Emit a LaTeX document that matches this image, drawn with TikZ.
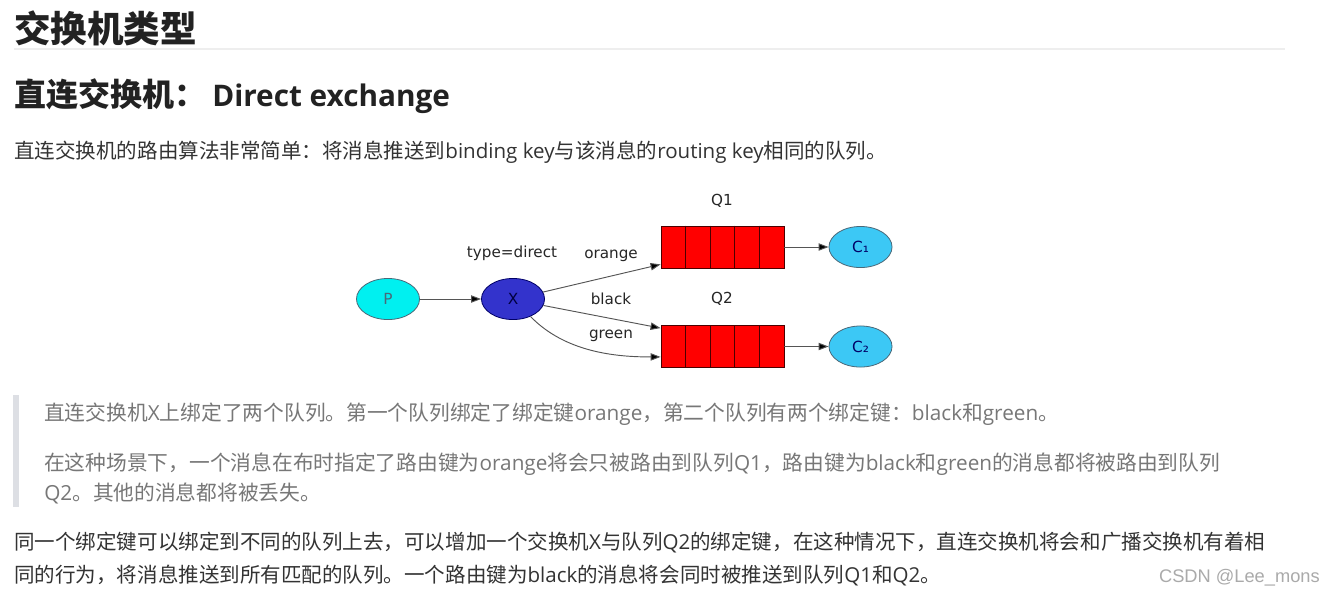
\documentclass[tikz,border=0pt]{standalone}
\usepackage{fontspec}
\setmainfont{Noto Sans CJK SC}
\newfontfamily\lat{Open Sans}
\newfontfamily\dia{DejaVu Sans}
\newfontfamily\wm{Liberation Sans}
\usetikzlibrary{arrows.meta,positioning,shapes.geometric,calc}
\definecolor{inkDark}{RGB}{34,34,34}
\definecolor{inkBody}{RGB}{51,51,51}
\definecolor{inkQuote}{RGB}{119,119,119}
\definecolor{barGray}{RGB}{221,223,228}
\definecolor{ruleGray}{RGB}{238,238,238}
\definecolor{markGray}{RGB}{170,170,170}
\definecolor{prodCyan}{RGB}{0,240,240}
\definecolor{exBlue}{RGB}{51,51,204}
\definecolor{conBlue}{RGB}{60,200,245}
\definecolor{qRed}{RGB}{255,0,0}
\definecolor{edgeGray}{RGB}{85,85,85}

\begin{document}
\begin{tikzpicture}[x=0.75pt,y=-0.75pt,
      h1/.style={anchor=base west,inner sep=0,text=inkDark,font=\bfseries\fontsize{27.4}{32}\selectfont},
      h2/.style={anchor=base west,inner sep=0,text=inkDark,font=\bfseries\fontsize{24}{28}\selectfont},
      para/.style={anchor=base west,inner sep=0,text=inkBody,font=\fontsize{15.4}{18}\selectfont},
      quo/.style={para,text=inkQuote,font=\fontsize{15.55}{18}\selectfont},
      ell/.style={ellipse,draw=black!70,line width=0.6pt,minimum width=47.3pt,minimum height=30.8pt,inner sep=0,font=\dia\fontsize{11.5}{12}\selectfont},
      queue/.style={draw=black!70!red,line width=0.6pt,fill=qRed,minimum width=92.3pt,minimum height=31.5pt,inner sep=0},
      lbl/.style={inner sep=0,text=black!85,font=\dia\fontsize{11.4}{13}\selectfont},
      edge/.style={draw=edgeGray,line width=0.7pt,-{Triangle[length=7.5pt,width=5.5pt,fill=black]}}
    ]
    \useasboundingbox[fill=white] (0,0) rectangle (1335,593);
    % headings
    \node[h1] (title) at (14,42.5) {交换机类型};
    \fill[ruleGray] (14,48) rectangle (1285,50);
    \node[h2] (sub) at (14,106.5) {直连交换机：\hspace{4.5pt}{\lat\bfseries\fontsize{22.3}{28}\selectfont Direct exchange}};
    \node[para] (intro) at (14,158) {直连交换机的路由算法非常简单：将消息推送到{\lat binding key}与该消息的{\lat routing key}相同的队列。};
    % diagram
    \node[ell,fill=prodCyan,draw=black!60!cyan,text=black!60!cyan] (p) at (388,299) {P};
    \node[ell,fill=exBlue,draw=black!60!blue,text=black!75!blue] (x) at (513,299) {X};
    \node[queue] (q1) at (722.5,247) {};
    \node[queue] (q2) at (722.5,346.5) {};
    \node[ell,fill=conBlue,draw=black!60!cyan,text=black!60!blue] (c1) at (860.5,247) {C₁};
    \node[ell,fill=conBlue,draw=black!60!cyan,text=black!60!blue] (c2) at (860.5,346.5) {C₂};
    \foreach \q in {q1,q2}
      \foreach \i in {1,...,4}
        \draw[black!70!red,line width=0.6pt] ($(\q.north west)!\i/5!(\q.north east)$) -- ($(\q.south west)!\i/5!(\q.south east)$);
    \node[lbl] (q1lbl) at (722,201) {Q1};
    \node[lbl] (q2lbl) at (722,299) {Q2};
    \node[lbl] (type) at (512,253) {type=direct};
    \draw[edge] (p) -- (x);
    \draw[edge] (x.13) -- ($(q1.south west)+(0,-4)$);
    \draw[edge] (x.-12) -- ($(q2.north west)+(0,3)$);
    \draw[edge] (x.-45) .. controls (565,352) and (615,357) .. ($(q2.south west)+(0,-11)$);
    \draw[edge] (q1) -- (c1);
    \draw[edge] (q2) -- (c2);
    \node[lbl] (orange) at (611,256) {orange};
    \node[lbl] (black) at (611,299) {black};
    \node[lbl] (green) at (611,336) {green};
    % quote block
    \fill[barGray] (13,395) rectangle (19,507);
    \node[quo] (quote1) at (44,420) {直连交换机{\lat X}上绑定了两个队列。第一个队列绑定了绑定键{\lat orange}，第二个队列有两个绑定键：{\lat black}和{\lat green}。};
    \node[quo] (quote2) at (44,470) {在这种场景下，一个消息在布时指定了路由键为{\lat orange}将会只被路由到队列{\lat Q1}，路由键为{\lat black}和{\lat green}的消息都将被路由到队列};
    \node[quo] (quote3) at (44,500) {{\lat Q2}。其他的消息都将被丢失。};
    % closing paragraph
    \node[para] (close1) at (14,549) {同一个绑定键可以绑定到不同的队列上去，可以增加一个交换机{\lat X}与队列{\lat Q2}的绑定键，在这种情况下，直连交换机将会和广播交换机有着相};
    \node[para] (close2) at (14,582) {同的行为，将消息推送到所有匹配的队列。一个路由键为{\lat black}的消息将会同时被推送到队列{\lat Q1}和{\lat Q2}。};
    \node[anchor=base east,inner sep=0,text=markGray,font=\wm\fontsize{13.7}{16}\selectfont] (mark) at (1320,582) {CSDN @Lee\_mons};
  \end{tikzpicture}
\end{document}
